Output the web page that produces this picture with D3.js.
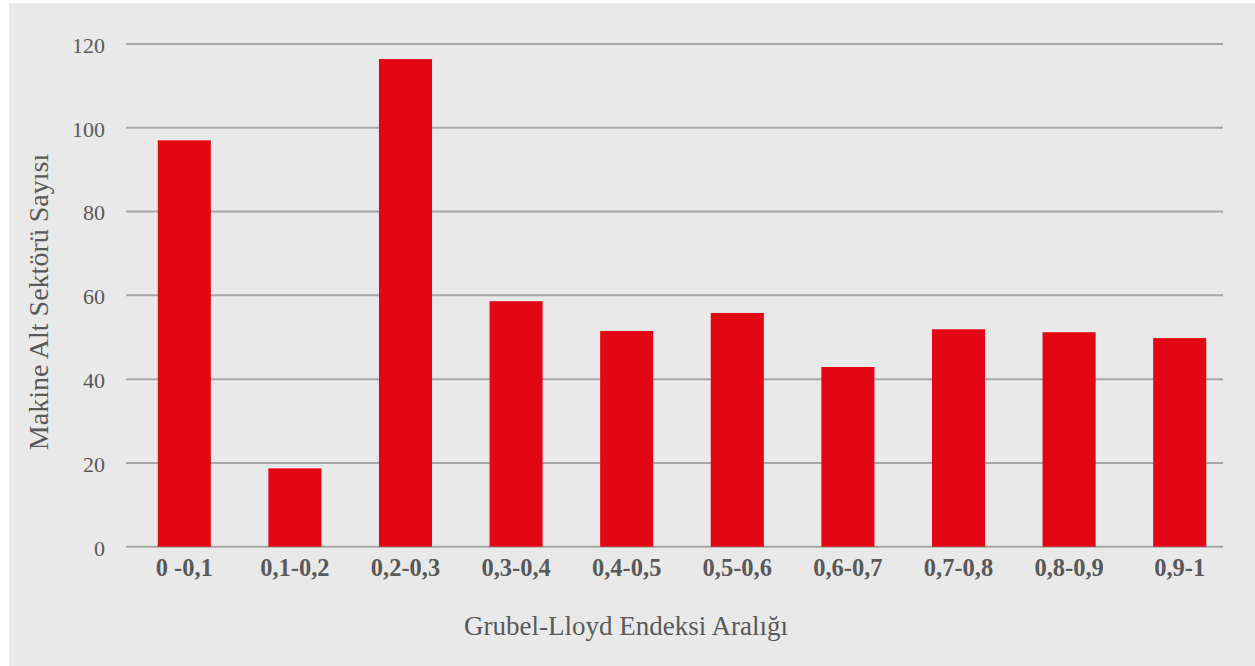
<!DOCTYPE html>
<html>
<head>
<meta charset="utf-8">
<script src="https://cdn.jsdelivr.net/npm/d3@7"></script>
<style>
  html, body { margin: 0; padding: 0; background: #fff; }
  svg { display: block; }
</style>
</head>
<body>
<div id="chart"></div>
<script>
// Grubel-Lloyd index ranges and number of machinery sub-sectors
const categories = ['0 -0,1', '0,1-0,2', '0,2-0,3', '0,3-0,4', '0,4-0,5',
  '0,5-0,6', '0,6-0,7', '0,7-0,8', '0,8-0,9', '0,9-1'];
const counts = [97, 18.7, 116.4, 58.6, 51.5, 55.8, 42.9, 51.9, 51.2, 49.8];
const yTicks = [0, 20, 40, 60, 80, 100, 120];
const xTitle = 'Grubel-Lloyd Endeksi Aralığı';
const yTitle = 'Makine Alt Sektörü Sayısı';

const W = 1255, H = 666;
const font = '"Liberation Serif", "DejaVu Serif", serif';
const svg = d3.select('#chart').append('svg')
  .attr('width', W)
  .attr('height', H);

// chart area background (small white margin top/left)
svg.append('rect')
  .attr('x', 9).attr('y', 3)
  .attr('width', W - 9).attr('height', H - 3)
  .attr('fill', '#e9e9e9');

const x = d3.scaleBand()
  .domain(categories)
  .range([129, 1235])
  .paddingInner(0.52)
  .paddingOuter(0.26);

const y = d3.scaleLinear()
  .domain([0, 120])
  .range([546.7, 44]);

const gridX = [126, 1223];

// gridlines
svg.append('g')
  .selectAll('line')
  .data(yTicks)
  .join('line')
  .attr('x1', gridX[0])
  .attr('x2', gridX[1])
  .attr('y1', d => y(d))
  .attr('y2', d => y(d))
  .attr('stroke', '#a6a6a6')
  .attr('stroke-width', 2);

// y tick labels
svg.append('g')
  .selectAll('text')
  .data(yTicks)
  .join('text')
  .attr('x', 105)
  .attr('y', d => y(d))
  .attr('dy', '0.4em')
  .attr('text-anchor', 'end')
  .attr('fill', '#595959')
  .style('font-family', font)
  .style('font-size', '22px')
  .text(d => d);

// bars
svg.append('g')
  .selectAll('rect')
  .data(counts)
  .join('rect')
  .attr('x', (d, i) => x(categories[i]))
  .attr('width', x.bandwidth())
  .attr('y', d => y(d))
  .attr('height', d => y(0) - y(d))
  .attr('fill', '#e30613');

// x category labels
svg.append('g')
  .selectAll('text')
  .data(categories)
  .join('text')
  .attr('x', d => x(d) + x.bandwidth() / 2)
  .attr('y', 576)
  .attr('text-anchor', 'middle')
  .attr('fill', '#595959')
  .style('font-family', font)
  .style('font-weight', 'bold')
  .style('font-size', '24.5px')
  .text(d => d);

// axis titles
svg.append('text')
  .attr('x', 626)
  .attr('y', 635)
  .attr('text-anchor', 'middle')
  .attr('fill', '#595959')
  .style('font-family', font)
  .style('font-size', '27px')
  .text(xTitle);

svg.append('text')
  .attr('transform', 'translate(48,302) rotate(-90)')
  .attr('text-anchor', 'middle')
  .attr('fill', '#595959')
  .style('font-family', font)
  .style('font-size', '28px')
  .text(yTitle);
</script>
</body>
</html>
